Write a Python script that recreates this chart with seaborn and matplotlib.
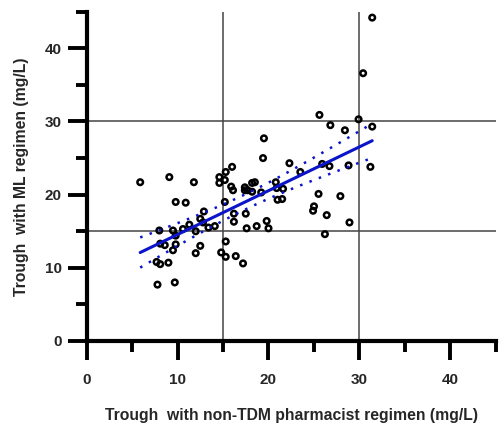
import numpy as np
import pandas as pd
import matplotlib
matplotlib.use('Agg')
from matplotlib import pyplot as plt
from matplotlib.ticker import MultipleLocator
import seaborn as sns

# trough values (mg/L)
non_tdm = [31.4, 30.4, 25.6, 29.9, 26.8, 28.4, 31.4, 19.5, 19.4, 22.3,
           25.9, 26.7, 28.8, 31.2, 23.5, 16.0, 15.3, 14.6, 15.2, 14.6,
           5.9, 9.1, 11.8, 15.9, 16.1, 17.4, 17.4, 17.7, 18.2, 18.5,
           18.2, 19.2, 20.8, 20.9, 21.6, 21.0, 21.5, 25.5, 27.9, 25.0,
           24.9, 26.4, 28.9, 26.2, 9.8, 10.9, 15.2, 12.9, 16.2, 17.5,
           16.2, 19.8, 12.5, 12.8, 11.3, 10.6, 8.0, 9.5, 12.0, 13.4,
           14.1, 17.6, 18.7, 20.0, 9.8, 8.1, 8.6, 9.8, 9.5, 12.5,
           12.0, 15.3, 14.8, 15.3, 16.4, 17.2, 7.7, 8.1, 9.0, 7.8, 9.7]
ml = [44.2, 36.6, 30.9, 30.3, 29.5, 28.8, 29.3, 27.7, 25.0, 24.3,
      24.2, 23.9, 24.0, 23.8, 23.1, 23.8, 23.1, 22.4, 22.0, 21.6,
      21.7, 22.4, 21.7, 21.1, 20.6, 21.0, 20.6, 20.6, 21.6, 21.7,
      20.4, 20.3, 21.7, 20.9, 20.8, 19.3, 19.4, 20.1, 19.8, 18.4,
      17.8, 17.2, 16.2, 14.6, 19.0, 18.9, 19.0, 17.7, 17.4, 17.4,
      16.3, 16.4, 16.7, 16.2, 15.9, 15.3, 15.1, 15.1, 15.0, 15.5,
      15.7, 15.4, 15.7, 15.4, 14.4, 13.3, 13.1, 13.2, 12.4, 13.0,
      12.0, 13.6, 12.1, 11.5, 11.6, 10.6, 10.8, 10.5, 10.7, 7.7, 8.0]

df = pd.DataFrame({'non_tdm': non_tdm, 'ml': ml})

sns.set_style('ticks')
plt.rcParams['font.family'] = ['Liberation Sans', 'DejaVu Sans']

fig = plt.figure(figsize=(5.03, 4.36), dpi=100)
ax = fig.add_axes([0.172, 0.218, 0.814, 0.755])

# reference lines
for v in [15, 30]:
    ax.axvline(v, color='#444444', lw=1.1, zorder=1)
    ax.axhline(v, color='#444444', lw=1.1, zorder=1)

sns.scatterplot(data=df, x='non_tdm', y='ml', ax=ax, marker='o', s=16,
                facecolor='none', edgecolor='black', linewidth=1.8, zorder=3)

# linear fit with 95% confidence band (dotted)
x = df['non_tdm'].values
y = df['ml'].values
n = len(x)
b, a = np.polyfit(x, y, 1)
xs = np.linspace(x.min(), x.max(), 100)
yfit = a + b * xs
resid = y - (a + b * x)
s = np.sqrt(np.sum(resid ** 2) / (n - 2))
se = s * np.sqrt(1 / n + (xs - x.mean()) ** 2 / np.sum((x - x.mean()) ** 2))
t = 1.99
ax.plot(xs, yfit, color='#0A14C8', lw=2.2, zorder=4)
ax.plot(xs, yfit + t * se, color='#0A14C8', lw=1.8, ls=(0, (1, 3)), zorder=4)
ax.plot(xs, yfit - t * se, color='#0A14C8', lw=1.8, ls=(0, (1, 3)), zorder=4)

ax.set_xlim(0, 45)
ax.set_ylim(0, 45)
ax.xaxis.set_major_locator(MultipleLocator(10))
ax.xaxis.set_minor_locator(MultipleLocator(5))
ax.yaxis.set_major_locator(MultipleLocator(10))
ax.yaxis.set_minor_locator(MultipleLocator(5))

sns.despine(ax=ax)
for sp in ['left', 'bottom']:
    ax.spines[sp].set_linewidth(3)
    ax.spines[sp].set_color('black')

ax.tick_params(which='both', bottom=True, left=True)
ax.tick_params(which='major', direction='out', length=14, width=2.8, color='black',
               labelsize=11)
ax.tick_params(axis='x', which='major', pad=9)
ax.tick_params(axis='y', which='major', pad=4)
ax.tick_params(which='minor', direction='out', length=8, width=2.8, color='black')
for lab in ax.get_xticklabels() + ax.get_yticklabels():
    lab.set_fontweight('bold')

ax.set_xlabel('Trough  with non-TDM pharmacist regimen (mg/L)', fontsize=11.3,
              fontweight='bold', labelpad=15)
ax.set_ylabel('Trough  with ML regimen (mg/L)', fontsize=11.3,
              fontweight='bold', labelpad=11)
ax.grid(False)

fig.savefig('out.png', dpi=100)
